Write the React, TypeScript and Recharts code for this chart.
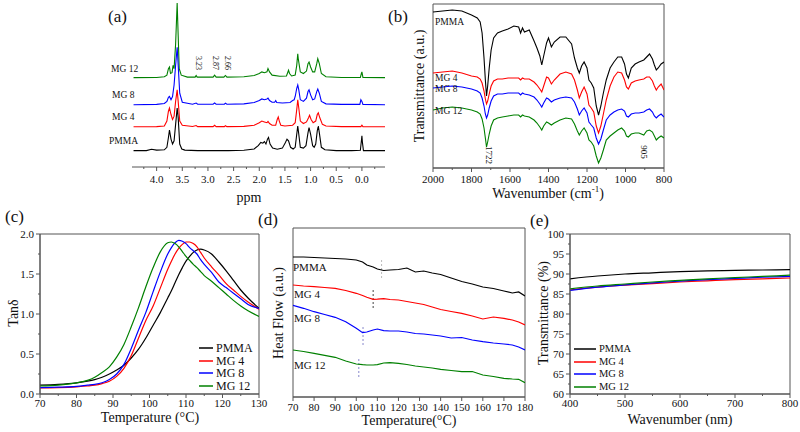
import React from 'react';
import { LineChart, Line, XAxis, YAxis, ReferenceArea, ReferenceLine, Legend } from 'recharts';

const FONT = '"Liberation Serif", "Times New Roman", serif';
const AXIS = '#555555';
const seriesNames = ['PMMA', 'MG 4', 'MG 8', 'MG 12'];
const seriesColors = ['#000000', '#ff0000', '#0000ff', '#008000'];

// (a) 1H NMR, [ppm, intensity a.u.]
const nmrPMMA = [[4.45,10],[4.2,10],[4.1,10.8],[4.0,10.3],[3.85,10.5],[3.8,12],[3.77,18],[3.75,22.5],[3.72,17],[3.69,14],[3.66,16],[3.63,26],[3.6,36],[3.58,30],[3.55,14],[3.51,11],[3.45,10.3],[3.2,10],[2.9,10],[2.6,10],[2.3,10.2],[2.1,11],[2.02,13],[1.97,15],[1.93,14.5],[1.9,15.5],[1.87,14],[1.84,17],[1.82,18],[1.79,14],[1.74,11.5],[1.65,10.8],[1.55,11.5],[1.49,15],[1.46,17],[1.43,16],[1.39,12],[1.34,11],[1.3,12],[1.27,20],[1.25,25],[1.23,20],[1.2,12],[1.14,11.5],[1.09,13],[1.05,21],[1.03,24],[1.0,20],[0.96,13],[0.93,12],[0.9,14],[0.87,22],[0.85,25],[0.83,21],[0.79,12],[0.72,10.5],[0.5,10],[0.2,10],[0.03,10.2],[0.01,16],[0.0,19],[-0.01,15],[-0.03,10],[-0.45,10]];
const nmrMG4 = [[4.45,24.5],[4.0,24.6],[3.85,25],[3.8,28],[3.77,34],[3.75,36],[3.72,32],[3.69,29],[3.66,31],[3.63,40],[3.6,47],[3.58,40],[3.55,28],[3.5,25.5],[3.3,24.7],[3.23,25.3],[3.2,24.6],[2.9,24.6],[2.87,25.4],[2.84,24.6],[2.68,24.6],[2.66,25.2],[2.63,24.6],[2.3,24.8],[2.1,25.5],[2.0,27],[1.95,28],[1.9,27.5],[1.85,27],[1.83,27.8],[1.8,26.5],[1.75,25.5],[1.68,25.5],[1.65,29],[1.63,30.5],[1.61,28],[1.58,25.5],[1.5,25],[1.35,25.5],[1.3,27],[1.27,35],[1.25,41],[1.23,36],[1.2,28],[1.14,26.5],[1.08,27.5],[1.04,30],[1.02,31.5],[0.99,29],[0.95,27],[0.9,28],[0.87,32],[0.85,33],[0.82,30],[0.77,26],[0.7,25],[0.4,24.6],[0.02,24.6],[0.0,25.5],[-0.02,24.6],[-0.45,24.5]];
const nmrMG8 = [[4.45,38],[4.0,38.2],[3.85,38.7],[3.8,40],[3.77,42.5],[3.75,43],[3.72,41],[3.69,43],[3.66,50],[3.63,62],[3.6,73],[3.58,62],[3.55,45],[3.5,39.5],[3.3,38.3],[3.23,39],[3.2,38.3],[2.9,38.3],[2.87,39],[2.84,38.3],[2.68,38.3],[2.66,38.9],[2.63,38.3],[2.3,38.5],[2.1,39.3],[2.0,40.5],[1.95,41.5],[1.9,41],[1.85,41.5],[1.83,42],[1.8,40.5],[1.75,39.5],[1.7,39.5],[1.68,40.5],[1.66,39.3],[1.55,39],[1.4,39.3],[1.35,40.5],[1.32,41],[1.3,43],[1.27,48],[1.25,50],[1.23,47],[1.2,41],[1.14,40],[1.08,42],[1.05,46],[1.03,47],[1.0,44],[0.96,41],[0.92,41.5],[0.88,46],[0.86,47.5],[0.83,45],[0.79,40],[0.7,38.5],[0.4,38.2],[0.04,38.2],[0.02,41],[0.0,40],[-0.02,38.2],[-0.45,38]];
const nmrMG12 = [[4.45,54.5],[4.0,54.6],[3.85,55],[3.8,56],[3.77,60],[3.75,61],[3.73,57],[3.7,57.5],[3.68,62],[3.66,60],[3.63,75],[3.6,100],[3.58,80],[3.56,60],[3.52,56],[3.4,54.8],[3.25,54.8],[3.23,55.8],[3.21,54.8],[2.9,54.8],[2.87,56],[2.84,54.8],[2.69,54.8],[2.66,55.8],[2.63,54.8],[2.3,55],[2.1,55.8],[2.0,57],[1.95,58],[1.9,57.5],[1.85,58],[1.83,60],[1.8,58],[1.75,56],[1.6,55.3],[1.47,55.5],[1.43,59],[1.41,57],[1.37,55.5],[1.3,56],[1.27,62],[1.25,69],[1.24,66],[1.22,62],[1.2,58],[1.14,57],[1.08,58.5],[1.05,63],[1.03,64],[1.0,61],[0.96,58],[0.92,58],[0.88,63],[0.86,66],[0.83,63],[0.79,57],[0.7,55],[0.4,54.6],[0.03,54.6],[0.01,57],[0.0,58],[-0.02,54.6],[-0.45,54.5]];
const nmrTicks = [4.25,4.0,3.75,3.5,3.25,3.0,2.75,2.5,2.25,2.0,1.75,1.5,1.25,1.0,0.75,0.5,0.25,0.0,-0.25];

// (b) FTIR
const ftirWn = [2000,1950,1900,1850,1800,1770,1755,1745,1735,1728,1722,1716,1708,1698,1685,1665,1640,1610,1580,1555,1545,1535,1525,1500,1475,1460,1445,1435,1425,1410,1400,1385,1370,1340,1310,1280,1265,1250,1240,1228,1215,1200,1190,1178,1165,1152,1140,1128,1115,1100,1080,1060,1040,1020,1005,995,985,970,950,930,905,890,875,860,850,840,830,815,800];
const ftirPMMA = [156,157,158,157,153,150,146,135,110,88,72,82,100,118,130,135,137,139,142,141,135,140,136,138,127,120,112,103,112,125,130,121,126,131,131,124,110,100,95,102,106,100,88,85,80,62,53,62,75,88,100,106,111,111,104,94,90,100,104,106,108,111,114,109,103,98,100,104,106];
const ftirMG4 = [95,96,97,95,92,91,89,85,77,69,64,67,74,82,87,89,89,90,90,90,88,90,89,89,86,83,79,76,82,91,90,84,88,94,96,94,88,78,70,76,81,74,63,60,56,42,35,42,54,68,82,91,96,95,88,81,79,85,87,88,89,91,91,87,82,78,81,84,78];
const ftirMG8 = [80,81,82,81,79,77,75,70,62,54,50,53,60,67,72,74,74,75,75,75,73,75,74,73,71,68,64,61,65,70,69,66,68,70,71,70,66,59,53,57,60,55,46,43,40,30,24,29,38,48,53,56,58,59,57,52,51,54,55,55,56,58,59,56,52,50,52,54,51];
const ftirMG12 = [58,60,61,60,58,56,54,49,40,30,21,26,34,42,48,50,51,52,53,53,51,53,52,51,48,45,41,38,42,46,45,43,45,48,50,49,44,37,33,37,40,35,28,26,22,12,5,10,18,28,32,35,38,40,37,32,31,34,35,35,33,37,38,36,32,28,30,32,30];
const ftirTicks = [2000,1900,1800,1700,1600,1500,1400,1300,1200,1100,1000,900,800];

// (c) DMA tan delta
const dmaT = [70,75,80,83,85,87,89,91,93,95,97,99,101,103,105,106,107,108,109,110,111,112,113,114,115,117,119,121,123,125,127,130];
const tanPMMA = [0.11,0.12,0.14,0.16,0.18,0.21,0.25,0.30,0.36,0.45,0.56,0.70,0.86,1.02,1.20,1.29,1.39,1.49,1.58,1.66,1.72,1.77,1.80,1.81,1.80,1.75,1.65,1.54,1.42,1.30,1.20,1.07];
const tanMG4 = [0.075,0.08,0.09,0.10,0.11,0.13,0.16,0.22,0.32,0.48,0.70,0.92,1.10,1.33,1.56,1.66,1.75,1.82,1.87,1.90,1.90,1.88,1.84,1.77,1.70,1.59,1.49,1.38,1.30,1.22,1.15,1.06];
const tanMG8 = [0.08,0.085,0.095,0.11,0.12,0.14,0.18,0.25,0.37,0.57,0.80,1.02,1.28,1.53,1.75,1.83,1.89,1.92,1.91,1.88,1.83,1.79,1.75,1.68,1.62,1.52,1.40,1.33,1.26,1.19,1.12,1.07];
const tanMG12 = [0.10,0.11,0.14,0.17,0.21,0.27,0.34,0.46,0.62,0.84,1.08,1.34,1.58,1.78,1.89,1.90,1.88,1.84,1.78,1.72,1.67,1.62,1.58,1.53,1.48,1.41,1.33,1.25,1.17,1.10,1.04,0.97];
const dmaXTicks = [70,75,80,85,90,95,100,105,110,115,120,125,130];
const dmaYTicks = [0,0.25,0.5,0.75,1,1.25,1.5,1.75,2];

// (d) DSC heat flow (a.u.)
const dscT = [70,75,80,85,90,95,100,103,105,108,110,113,116,120,124,128,132,136,140,145,150,155,160,165,170,174,177,180];
const hfPMMA = [140,140,139.5,139,138.5,138,137,135,132,130,128,126.5,127,127.5,129,125,126,124,122.5,119,115.5,113,110,108.5,106,104,105,101];
const hfMG4 = [112,111,110.3,109.5,108.7,106.5,103.7,101.5,99.7,97.7,97.8,98.3,97.5,97,95.5,94,92.5,90,87.5,85.5,83.7,81,78,80,78.7,77,75,72];
const hfMG8 = [91.7,88.7,85.3,82.5,79.7,75.3,68.7,64.3,65,67,68,66.3,66,66,65,63.5,63,62,61,59,59.5,57,55.3,54,53,52,50,47];
const hfMG12 = [47,45.5,43.7,41.7,39.7,36,33,32.3,32,32,32.3,34,34.3,33.7,32.5,31,30,29,27.7,26.5,25.3,25.5,22,20.5,18.7,18,17.7,14.3];
const tgMarkT = [112, 108, 103.2, 101.2];
const tgMarkTop = [137, 107, 72, 40];
const tgMarkBottom = [119, 89, 52, 20];
const tgMarkColors = ['#bbbbbb', '#444444', '#8888cc', '#8888cc'];
const dscTicks = [70,80,90,100,110,120,130,140,150,160,170,180];

// (e) UV-vis transmittance
const uvWl = [400,450,500,550,600,650,700,750,800];
const uvPMMA = [88.8,89.5,90.0,90.3,90.6,90.8,90.9,91.0,91.1];
const uvMG4 = [86.0,86.7,87.2,87.6,88.0,88.3,88.6,88.8,89.0];
const uvMG8 = [85.9,86.7,87.3,87.8,88.2,88.6,88.9,89.2,89.4];
const uvMG12 = [86.3,87.0,87.5,88.0,88.4,88.8,89.1,89.4,89.7];
const uvXTicks = [400,450,500,550,600,650,700,750,800];
const uvYTicks = [60,62.5,65,67.5,70,72.5,75,77.5,80,82.5,85,87.5,90,92.5,95,97.5,100];

const pts = (pairs: number[][]) => pairs.map(([x, y]) => ({ x, y }));
const table = (xs: number[], cols: number[][]) =>
  xs.map((x, i) => {
    const row: any = { x };
    cols.forEach((c, j) => { row['s' + j] = c[i]; });
    return row;
  });

const isMajor = (v: number, step: number) => Math.abs(v / step - Math.round(v / step)) < 1e-6;

const bottomTick = (step: number, fmt: (v: number) => string, dy: number, fs: number) => (props: any) => {
  const { x, y, payload } = props;
  const major = isMajor(payload.value, step);
  return (
    <g>
      <line x1={x} x2={x} y1={y} y2={y + (major ? 4 : 2)} stroke={AXIS} />
      {major && (
        <text x={x} y={y + dy} textAnchor="middle" fontSize={fs} fill="#111" fontFamily={FONT}>
          {fmt(payload.value)}
        </text>
      )}
    </g>
  );
};

const leftTick = (step: number, fmt: (v: number) => string, fs: number) => (props: any) => {
  const { x, y, payload } = props;
  const major = isMajor(payload.value, step);
  return (
    <g>
      <line x1={x} x2={x - (major ? 4 : 2)} y1={y} y2={y} stroke={AXIS} />
      {major && (
        <text x={x - 6} y={y + 4} textAnchor="end" fontSize={fs} fill="#111" fontFamily={FONT}>
          {fmt(payload.value)}
        </text>
      )}
    </g>
  );
};

const Note = ({ x, y, size, rot = 0, anchor = 'start', children }: any) => (
  <div
    style={{
      position: 'absolute',
      left: x,
      top: y,
      fontSize: size,
      lineHeight: 1,
      whiteSpace: 'nowrap',
      color: '#111',
      transform: `translate(${anchor === 'middle' ? '-50%' : '0'}, -50%) rotate(${rot}deg)`,
    }}
  >
    {children}
  </div>
);

const legendContent = (lineLen: number, fs: number, rowH: number) => () => (
  <div style={{ fontFamily: FONT }}>
    {seriesNames.map((n, i) => (
      <div key={n} style={{ display: 'flex', alignItems: 'center', height: rowH }}>
        <svg width={lineLen} height={4}>
          <line x1={0} x2={lineLen} y1={2} y2={2} stroke={seriesColors[i]} strokeWidth={1.5} />
        </svg>
        <span style={{ fontSize: fs, marginLeft: 3, lineHeight: 1, color: '#111' }}>{n}</span>
      </div>
    ))}
  </div>
);

const box = (left: number, top: number): React.CSSProperties => ({ position: 'absolute', left, top });

const App = () => {
  const nmrSets = [nmrPMMA, nmrMG4, nmrMG8, nmrMG12].map(pts);
  const ftirData = table(ftirWn, [ftirPMMA, ftirMG4, ftirMG8, ftirMG12]);
  const dmaData = table(dmaT, [tanPMMA, tanMG4, tanMG8, tanMG12]);
  const dscData = table(dscT, [hfPMMA, hfMG4, hfMG8, hfMG12]);
  const uvData = table(uvWl, [uvPMMA, uvMG4, uvMG8, uvMG12]);
  const drawOrder = [3, 2, 1, 0];

  return (
    <div style={{ position: 'absolute', left: 0, top: 0, width: 800, height: 432, background: '#fff', fontFamily: FONT, overflow: 'hidden' }}>
      {/* (a) NMR */}
      <div style={box(100, 0)}>
        <LineChart width={300} height={210} margin={{ top: 3, right: 15, bottom: 0, left: 32 }}>
          <XAxis type="number" dataKey="x" domain={[-0.45, 4.48]} reversed allowDataOverflow ticks={nmrTicks} interval={0}
            height={43} tickSize={0} tickMargin={0} tickLine={false} stroke={AXIS} tick={bottomTick(0.5, v => v.toFixed(1), 16, 11)} />
          <YAxis type="number" dataKey="y" domain={[0, 100]} hide allowDataOverflow />
          {drawOrder.map(i => (
            <Line key={i} data={nmrSets[i]} dataKey="y" type="linear" stroke={seriesColors[i]} strokeWidth={1.1} dot={false} isAnimationActive={false} />
          ))}
        </LineChart>
      </div>

      {/* (b) FTIR */}
      <div style={box(400, 0)}>
        <LineChart width={280} height={210} data={ftirData} margin={{ top: 4, right: 16, bottom: 0, left: 33 }}>
          <XAxis type="number" dataKey="x" domain={[800, 2000]} reversed allowDataOverflow ticks={ftirTicks} interval={0}
            height={42} tickSize={0} tickMargin={0} tickLine={false} stroke={AXIS} tick={bottomTick(200, v => String(v), 15, 11)} />
          <YAxis type="number" domain={[0, 164]} hide allowDataOverflow />
          <ReferenceArea x1={800} x2={2000} y1={0} y2={164} fill="none" stroke={AXIS} ifOverflow="visible" />
          {drawOrder.map(i => (
            <Line key={i} dataKey={'s' + i} type="linear" stroke={seriesColors[i]} strokeWidth={1.1} dot={false} isAnimationActive={false} />
          ))}
        </LineChart>
      </div>

      {/* (c) Tan delta */}
      <div style={box(0, 200)}>
        <LineChart width={270} height={232} data={dmaData} margin={{ top: 34, right: 11, bottom: 0, left: 0 }}>
          <XAxis type="number" dataKey="x" domain={[70, 130]} allowDataOverflow ticks={dmaXTicks} interval={0}
            height={38} tickSize={0} tickMargin={0} tickLine={false} stroke={AXIS} tick={bottomTick(10, v => String(v), 13, 11)} />
          <YAxis type="number" domain={[0, 2]} allowDataOverflow ticks={dmaYTicks} interval={0} width={40}
            tickSize={0} tickMargin={0} tickLine={false} stroke={AXIS} tick={leftTick(0.5, v => v.toFixed(1), 11)} />
          <ReferenceArea x1={70} x2={130} y1={0} y2={2} fill="none" stroke={AXIS} ifOverflow="visible" />
          {[0, 1, 2, 3].map(i => (
            <Line key={i} dataKey={'s' + i} name={seriesNames[i]} type="monotone" stroke={seriesColors[i]} strokeWidth={1.2} dot={false} isAnimationActive={false} />
          ))}
          <Legend layout="vertical" align="center" verticalAlign="middle" content={legendContent(14, 12, 12.5)}
            wrapperStyle={{ left: 199, top: 142, width: 'auto', height: 'auto' }} />
        </LineChart>
      </div>

      {/* (d) DSC */}
      <div style={box(270, 200)}>
        <LineChart width={270} height={232} data={dscData} margin={{ top: 28, right: 15, bottom: 0, left: 23 }}>
          <XAxis type="number" dataKey="x" domain={[70, 180]} allowDataOverflow ticks={dscTicks} interval={0}
            height={35} tickSize={0} tickMargin={0} tickLine={false} stroke={AXIS} tick={bottomTick(10, v => String(v), 14, 11)} />
          <YAxis type="number" domain={[0, 169]} hide allowDataOverflow />
          <ReferenceArea x1={70} x2={180} y1={0} y2={169} fill="none" stroke={AXIS} ifOverflow="visible" />
          {tgMarkT.map((t, i) => (
            <ReferenceLine key={'tg' + i} segment={[{ x: t, y: tgMarkBottom[i] }, { x: t, y: tgMarkTop[i] }]}
              stroke={tgMarkColors[i]} strokeDasharray="2 2" ifOverflow="visible" />
          ))}
          {[0, 1, 2, 3].map(i => (
            <Line key={i} dataKey={'s' + i} type="linear" stroke={seriesColors[i]} strokeWidth={1.2} dot={false} isAnimationActive={false} />
          ))}
        </LineChart>
      </div>

      {/* (e) UV-vis */}
      <div style={box(530, 200)}>
        <LineChart width={270} height={232} data={uvData} margin={{ top: 34, right: 10, bottom: 0, left: 0 }}>
          <XAxis type="number" dataKey="x" domain={[400, 800]} allowDataOverflow ticks={uvXTicks} interval={0}
            height={38} tickSize={0} tickMargin={0} tickLine={false} stroke={AXIS} tick={bottomTick(100, v => String(v), 13, 11)} />
          <YAxis type="number" domain={[60, 100]} allowDataOverflow ticks={uvYTicks} interval={0} width={40}
            tickSize={0} tickMargin={0} tickLine={false} stroke={AXIS} tick={leftTick(5, v => String(v), 11)} />
          <ReferenceArea x1={400} x2={800} y1={60} y2={100} fill="none" stroke={AXIS} ifOverflow="visible" />
          {[0, 1, 2, 3].map(i => (
            <Line key={i} dataKey={'s' + i} name={seriesNames[i]} type="monotone" stroke={seriesColors[i]} strokeWidth={1.2} dot={false} isAnimationActive={false} />
          ))}
          <Legend layout="vertical" align="center" verticalAlign="middle" content={legendContent(22, 10.5, 12.5)}
            wrapperStyle={{ left: 44, top: 143, width: 'auto', height: 'auto' }} />
        </LineChart>
      </div>

      {/* panel letters */}
      <Note x={108} y={16} size={17}>(a)</Note>
      <Note x={388} y={16} size={17}>(b)</Note>
      <Note x={5} y={216} size={17}>(c)</Note>
      <Note x={258} y={219} size={17}>(d)</Note>
      <Note x={530} y={220} size={17}>(e)</Note>

      {/* (a) annotations */}
      <Note x={111} y={70} size={9.5}>MG 12</Note>
      <Note x={112} y={96} size={9.5}>MG 8</Note>
      <Note x={112} y={118} size={9.5}>MG 4</Note>
      <Note x={109} y={142} size={9.5}>PMMA</Note>
      <Note x={198} y={63} size={8} rot={90} anchor="middle">3.23</Note>
      <Note x={215} y={63} size={8} rot={90} anchor="middle">2.87</Note>
      <Note x={227} y={63} size={8} rot={90} anchor="middle">2.66</Note>
      <Note x={249} y={198} size={14} anchor="middle">ppm</Note>

      {/* (b) annotations */}
      <Note x={435} y={23} size={9.5}>PMMA</Note>
      <Note x={435} y={79} size={9.5}>MG 4</Note>
      <Note x={435} y={90} size={9.5}>MG 8</Note>
      <Note x={435} y={112} size={9.5}>MG 12</Note>
      <Note x={488} y={155} size={9} rot={90} anchor="middle">1722</Note>
      <Note x={643} y={152} size={9} rot={90} anchor="middle">905</Note>
      <Note x={420} y={86} size={14} rot={-90} anchor="middle">Transmittance (a.u.)</Note>
      <Note x={548} y={193} size={14} anchor="middle">Wavenumber (cm<sup style={{ fontSize: 9 }}>-1</sup>)</Note>

      {/* (c) titles */}
      <Note x={14} y={313} size={14} rot={-90} anchor="middle">Tanδ</Note>
      <Note x={150} y={418} size={14} anchor="middle">Temperature (°C)</Note>

      {/* (d) annotations */}
      <Note x={293} y={267} size={11}>PMMA</Note>
      <Note x={294} y={294} size={11}>MG 4</Note>
      <Note x={294} y={318} size={11}>MG 8</Note>
      <Note x={294} y={365} size={11}>MG 12</Note>
      <Note x={279} y={313} size={14} rot={-90} anchor="middle">Heat Flow (a.u.)</Note>
      <Note x={409} y={421} size={14} anchor="middle">Temperature(°C)</Note>

      {/* (e) titles */}
      <Note x={544} y={313} size={14} rot={-90} anchor="middle">Transmittance (%)</Note>
      <Note x={680} y={420} size={14} anchor="middle">Wavenumber (nm)</Note>
    </div>
  );
};

export default App;
